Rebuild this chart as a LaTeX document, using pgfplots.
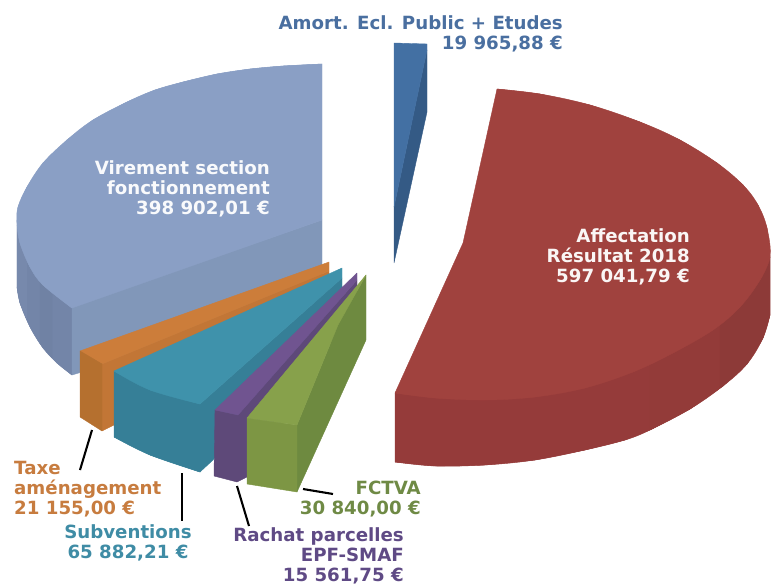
\documentclass[border=0pt]{standalone}
\usepackage{fontspec}
\setmainfont{DejaVu Sans}
\usepackage{pgfplots}
\pgfplotsset{compat=1.18}
\definecolor{vtop}{HTML}{8A9FC5}
\definecolor{vin}{HTML}{8197B9}
\definecolor{vout}{HTML}{7385A8}
\definecolor{vout2}{HTML}{7789AC}
\definecolor{vout3}{HTML}{7082A4}
\definecolor{rtop}{HTML}{A0423E}
\definecolor{rside}{HTML}{953B3A}
\definecolor{rmid}{HTML}{933B39}
\definecolor{rdark}{HTML}{8D3A38}
\definecolor{atop}{HTML}{4370A3}
\definecolor{adark}{HTML}{345A85}
\definecolor{otop}{HTML}{CC7D3A}
\definecolor{oin}{HTML}{C27636}
\definecolor{ofront}{HTML}{B5702F}
\definecolor{ttop}{HTML}{3F92AB}
\definecolor{tside}{HTML}{367F97}
\definecolor{ptop}{HTML}{705490}
\definecolor{pside}{HTML}{5E4979}
\definecolor{gtop}{HTML}{87A14B}
\definecolor{gside}{HTML}{6E8A40}
\definecolor{gfront}{HTML}{7D9644}
\definecolor{ttext}{HTML}{3F8CA5}
\definecolor{otext}{HTML}{C77C3F}
\definecolor{atext}{HTML}{4A6FA0}
\definecolor{ptext}{HTML}{5F4A85}
\definecolor{gtext}{HTML}{6F8A45}
\pgfplotsset{face/.style={fill=#1,draw=#1,line width=0.4pt,line join=round,no markers,forget plot},
 curve/.style={face=#1,smooth,tension=0.6}}
\begin{document}
\begin{tikzpicture}[x=1pt,y=1pt]
\useasboundingbox (0,0) rectangle (777,585);
\begin{axis}[hide axis,scale only axis,width=777pt,height=585pt,anchor=south west,at={(0,0)},
  xmin=0,xmax=777,ymin=0,ymax=585,y dir=reverse,clip=false]
% Virement section fonctionnement
\addplot[curve=vout] coordinates {(17,287)(20,303)(30,327)(43,348)(57,363)(72,375)};
\addplot[face=vout] coordinates {(17,220)(17,287)(20,303)(30,327)(43,348)(57,363)(72,375)(72,307)} --cycle;
\addplot[face=vout2] coordinates {(17,225)(17,287)(20,303)(27,320)(27,260)} --cycle;
\addplot[face=vout3] coordinates {(40,280)(40,343)(52,358)(52,295)} --cycle;
\addplot[face=vin] coordinates {(72,307)(322,220)(322,300)(72,375)} --cycle;
\addplot[curve=vtop] coordinates {(322,64)(283,66)(250,69)(217,74)(183,82)(155,90)(127,102)(93,120)(67,140)(43,163)(27,187)(18,207)(17,223)(20,243)(30,267)(43,285)(72,308)};
\addplot[face=vtop] coordinates {(322,64)(322,220)(72,308)(43,285)(30,267)(20,243)(17,223)(18,207)(27,187)(43,163)(67,140)(93,120)(127,102)(155,90)(183,82)(217,74)(250,69)(283,66)} --cycle;
% Amort
\addplot[face=adark] coordinates {(427,50)(427,112)(394,263)(394,207)} --cycle;
\addplot[face=atop] coordinates {(394,43)(427,44)(427,50)(394,207)} --cycle;
% Affectation
\addplot[curve=rside] coordinates {(770,315)(763,338)(747,364)(723,386)(690,409)(650,430)(625,440)(585,450)(535,460)(485,465)(435,466)(395,462)};
\addplot[face=rside] coordinates {(770,257)(770,315)(763,338)(747,364)(723,386)(690,409)(650,430)(625,440)(585,450)(535,460)(485,465)(435,466)(395,462)(395,393)} --cycle;
\addplot[face=rmid] coordinates {(720,320)(720,388)(690,409)(650,430)(650,345)} --cycle;
\addplot[face=rdark] coordinates {(770,257)(770,315)(763,338)(747,364)(723,386)(720,388)(720,320)(740,300)(760,275)} --cycle;
\addplot[curve=rtop] coordinates {(497,89)(540,94)(590,105)(640,122)(680,140)(717,163)(743,185)(758,205)(767,228)(770,257)(760,280)};
\addplot[curve=rtop] coordinates {(770,257)(760,280)(740,307)(713,330)(673,353)(633,372)(585,388)(535,397)(485,400)(435,398)(395,393)};
\addplot[face=rtop] coordinates {(497,89)(540,94)(590,105)(640,122)(680,140)(717,163)(743,185)(758,205)(767,228)(770,257)(760,280)(740,307)(713,330)(673,353)(633,372)(585,388)(535,397)(485,400)(435,398)(395,393)(463,243)} --cycle;
% Taxe
\addplot[face=oin] coordinates {(102,364)(329,271)(329,290)(114,425)(102,431)} --cycle;
\addplot[face=otop] coordinates {(80,351)(329,262)(329,271)(102,364)} --cycle;
\addplot[face=ofront] coordinates {(80,351)(102,364)(102,431)(80,417)} --cycle;
% Subventions
\addplot[face=tside] coordinates {(200,404)(342,278)(342,300)(213,460)(200,472)} --cycle;
\addplot[curve=tside] coordinates {(114,437)(150,455)(200,472)};
\addplot[face=tside] coordinates {(114,371)(200,404)(200,472)(150,455)(114,437)} --cycle;
\addplot[curve=ttop] coordinates {(114,371)(150,390)(200,404)};
\addplot[face=ttop] coordinates {(114,371)(342,268)(342,278)(200,404)(150,390)} --cycle;
% Rachat
\addplot[face=pside] coordinates {(215,410)(238,415)(357,280)(357,300)(247,477)(237,482)(214,476)} --cycle;
\addplot[face=ptop] coordinates {(215,410)(357,273)(357,280)(238,415)} --cycle;
% FCTVA
\addplot[face=gside] coordinates {(297,425)(338,325)(366,275)(366,340)(297,492)} --cycle;
\addplot[face=gfront] coordinates {(247,418)(297,425)(297,492)(247,484)} --cycle;
\addplot[face=gtop] coordinates {(247,418)(366,275)(338,325)(297,425)} --cycle;
% leaders
\addplot[black,line width=2.1pt,no markers,forget plot] coordinates {(92,430)(80,470)};
\addplot[black,line width=2.1pt,no markers,forget plot] coordinates {(182,473)(182,521)};
\addplot[black,line width=2.1pt,no markers,forget plot] coordinates {(237,486)(249,526)};
\addplot[black,line width=2.1pt,no markers,forget plot] coordinates {(303,489)(333,494)};
\tikzset{lab/.style={font=\fontsize{18.2}{20}\selectfont\bfseries,inner sep=0pt,align=right,anchor=north east}}
\node[lab,text=atext] at (axis cs:563,15.5) {Amort. Ecl. Public + Etudes\\19 965,88 €};
\node[lab,text=white!95!vtop] at (axis cs:270,160.5) {Virement section\\fonctionnement\\398 902,01 €};
\node[lab,text=white!95!rtop] at (axis cs:690,228.5) {Affectation\\Résultat 2018\\597 041,79 €};
\node[lab,text=otext,align=left,anchor=north west] at (axis cs:14,461.5) {Taxe\\aménagement\\21 155,00 €};
\node[lab,text=ttext,align=center,anchor=north] at (axis cs:128,524.5) {Subventions\\65 882,21 €};
\node[lab,text=ptext] at (axis cs:404,527.5) {Rachat parcelles\\EPF-SMAF\\15 561,75 €};
\node[lab,text=gtext] at (axis cs:421,480.5) {FCTVA\\30 840,00 €};
\end{axis}
\end{tikzpicture}
\end{document}
